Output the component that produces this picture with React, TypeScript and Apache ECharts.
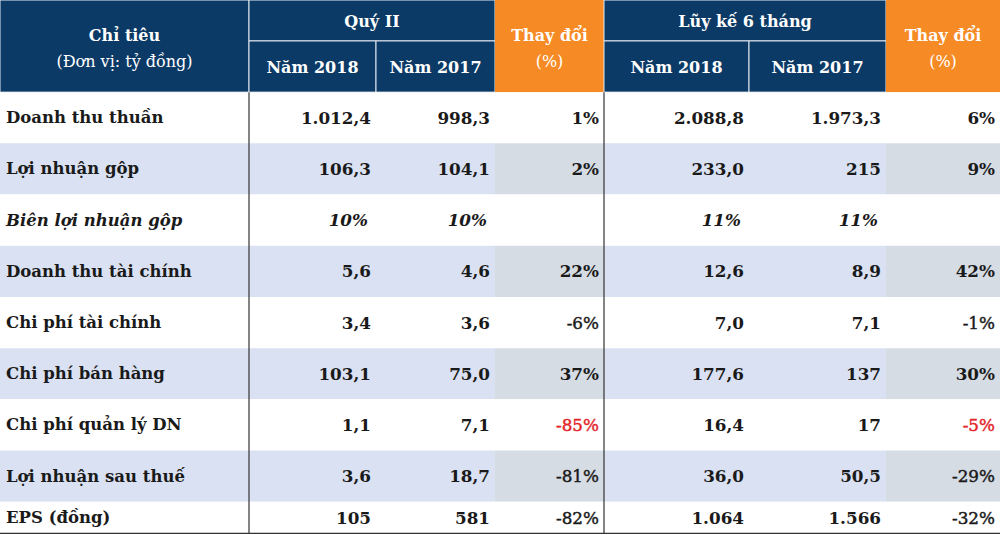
import { useEffect, useRef } from "react";
import * as echarts from "echarts";

// ---------- Data ----------
const rowLabels = [
  "Doanh thu thuần",
  "Lợi nhuận gộp",
  "Biên lợi nhuận gộp",
  "Doanh thu tài chính",
  "Chi phí tài chính",
  "Chi phí bán hàng",
  "Chi phí quản lý DN",
  "Lợi nhuận sau thuế",
  "EPS (đồng)",
];
const quarter2018 = ["1.012,4", "106,3", "10%", "5,6", "3,4", "103,1", "1,1", "3,6", "105"];
const quarter2017 = ["998,3", "104,1", "10%", "4,6", "3,6", "75,0", "7,1", "18,7", "581"];
const quarterChange = ["1%", "2%", "", "22%", "-6%", "37%", "-85%", "-81%", "-82%"];
const half2018 = ["2.088,8", "233,0", "11%", "12,6", "7,0", "177,6", "16,4", "36,0", "1.064"];
const half2017 = ["1.973,3", "215", "11%", "8,9", "7,1", "137", "17", "50,5", "1.566"];
const halfChange = ["6%", "9%", "", "42%", "-1%", "30%", "-5%", "-29%", "-32%"];
const redRows = [6]; // change cells shown in red
const italicRows = [2];

const headerFirst = ["Chỉ tiêu", "(Đơn vị: tỷ đồng)"];
const headerGroups = ["Quý II", "Lũy kế 6 tháng"];
const yearLabels = ["Năm 2018", "Năm 2017"];
const changeHeader = ["Thay đổi", "(%)"];

// ---------- Layout / style ----------
const COL_EDGES = [0, 249, 376, 495, 604, 749, 886, 1000];
const HEADER_TOP = -1.8;
const HEADER_MID = -1.0;
const ROW_LIMIT = 8.62;
const Y_MAX = 8.65;

const NAVY = "#0b3a66";
const ORANGE = "#f68a24";
const BAND = "#d9e1f2";
const BAND_GRAY = "#d6dce4";
const TEXT = "#1a1a1a";
const RED = "#e3262a";
const FONT = "'DejaVu Serif', 'Liberation Serif', serif";

type TextItem = {
  text: string;
  dy: number;
  dx: number;
  weight: string;
  style: string;
  color: string;
  align: "left" | "right" | "center";
  size: number;
  thicken: boolean;
};
type Cell = {
  c0: number;
  c1: number;
  r0: number;
  r1: number;
  fill: string;
  stroke?: string;
  texts: TextItem[];
};

function buildCells(): Cell[] {
  const cells: Cell[] = [];
  const hText = (text: string, dy: number, bold = true): TextItem => ({
    text,
    dy,
    dx: 0,
    weight: bold ? "bold" : "normal",
    style: "normal",
    color: "#ffffff",
    align: "center",
    size: 16,
    thicken: false,
  });
  const HS = "#e4eaf2";
  // header
  cells.push({
    c0: 0, c1: 1, r0: HEADER_TOP, r1: 0, fill: NAVY, stroke: HS,
    texts: [hText(headerFirst[0], -11), hText(headerFirst[1], 15, false)],
  });
  [1, 4].forEach((start, g) => {
    cells.push({
      c0: start, c1: start + 2, r0: HEADER_TOP, r1: HEADER_MID, fill: NAVY, stroke: HS,
      texts: [hText(headerGroups[g], 1)],
    });
    yearLabels.forEach((y, k) => {
      cells.push({
        c0: start + k, c1: start + k + 1, r0: HEADER_MID, r1: 0, fill: NAVY, stroke: HS,
        texts: [hText(y, 1)],
      });
    });
    cells.push({
      c0: start + 2, c1: start + 3, r0: HEADER_TOP, r1: 0, fill: ORANGE,
      texts: [hText(changeHeader[0], -11), hText(changeHeader[1], 15, false)],
    });
  });
  // body
  const cols = [rowLabels, quarter2018, quarter2017, quarterChange, half2018, half2017, halfChange];
  rowLabels.forEach((_, r) => {
    cols.forEach((col, c) => {
      const banded = r % 2 === 1;
      const isChange = c === 3 || c === 6;
      const fill = banded ? (isChange ? BAND_GRAY : BAND) : "#ffffff";
      const txt = col[r];
      const negative = txt.startsWith("-");
      const italic = italicRows.includes(r);
      const red = isChange && redRows.includes(r);
      cells.push({
        c0: c, c1: c + 1, r0: r, r1: r + 1, fill,
        texts: txt
          ? [{
              text: txt,
              dy: 0,
              dx: italic && c > 0 ? -3 : 0,
              weight: negative ? "normal" : "bold",
              style: italic ? "italic" : "normal",
              color: red ? RED : TEXT,
              align: c === 0 ? "left" : "right",
              size: c === 0 ? 16.5 : 16.8,
              thicken: negative,
            }]
          : [],
      });
    });
  });
  return cells;
}

const cells = buildCells();
const borderLines = [
  { x0: COL_EDGES[1], x1: COL_EDGES[1], y0: 0, y1: ROW_LIMIT },
  { x0: COL_EDGES[4], x1: COL_EDGES[4], y0: 0, y1: ROW_LIMIT },
  { x0: COL_EDGES[0], x1: COL_EDGES[7], y0: ROW_LIMIT, y1: ROW_LIMIT },
];

export default function App() {
  const ref = useRef<HTMLDivElement>(null);
  useEffect(() => {
    if (!ref.current) return;
    const chart = echarts.init(ref.current, undefined, { renderer: "svg" });
    chart.setOption({
      animation: false,
      grid: { left: 0, right: 0, top: 0, bottom: 0 },
      xAxis: { type: "value", min: 0, max: 1000, show: false },
      yAxis: { type: "value", min: HEADER_TOP, max: Y_MAX, inverse: true, show: false },
      series: [
        {
          type: "custom",
          silent: true,
          clip: false,
          data: cells.map((c) => [COL_EDGES[c.c0], c.r0]),
          encode: { x: 0, y: 1 },
          renderItem: (params: any, api: any) => {
            const cell = cells[params.dataIndex];
            const tl = api.coord([COL_EDGES[cell.c0], cell.r0]);
            const br = api.coord([COL_EDGES[cell.c1], Math.min(cell.r1, ROW_LIMIT)]);
            const cx = (tl[0] + br[0]) / 2;
            const cy = (tl[1] + br[1]) / 2;
            const children: any[] = [
              {
                type: "rect",
                shape: { x: tl[0], y: tl[1], width: br[0] - tl[0], height: br[1] - tl[1] },
                style: cell.stroke
                  ? { fill: cell.fill, stroke: cell.stroke, lineWidth: 1 }
                  : { fill: cell.fill },
              },
            ];
            cell.texts.forEach((t) => {
              const x =
                (t.align === "left" ? tl[0] + 6 : t.align === "right" ? br[0] - 5 : cx) + t.dx;
              const style: any = {
                text: t.text,
                fill: t.color,
                fontFamily: FONT,
                fontSize: t.size,
                fontWeight: t.weight,
                fontStyle: t.style,
                align: t.align,
                verticalAlign: "middle",
              };
              if (t.thicken) {
                style.stroke = t.color;
                style.lineWidth = 0.45;
              }
              children.push({ type: "text", x, y: cy + t.dy, style });
            });
            return { type: "group", children };
          },
        },
        {
          type: "custom",
          silent: true,
          clip: false,
          z: 5,
          data: borderLines.map((l) => [l.x0, l.y0]),
          encode: { x: 0, y: 1 },
          renderItem: (params: any, api: any) => {
            const l = borderLines[params.dataIndex];
            const p0 = api.coord([l.x0, l.y0]);
            const p1 = api.coord([l.x1, l.y1]);
            return {
              type: "line",
              shape: { x1: p0[0], y1: p0[1], x2: p1[0], y2: p1[1] },
              style: { stroke: "#333333", lineWidth: 1.2 },
            };
          },
        },
      ],
    });
    return () => chart.dispose();
  }, []);
  return (
    <div
      ref={ref}
      style={{ position: "absolute", left: 0, top: 0, width: 1000, height: 535, background: "#fff" }}
    />
  );
}
